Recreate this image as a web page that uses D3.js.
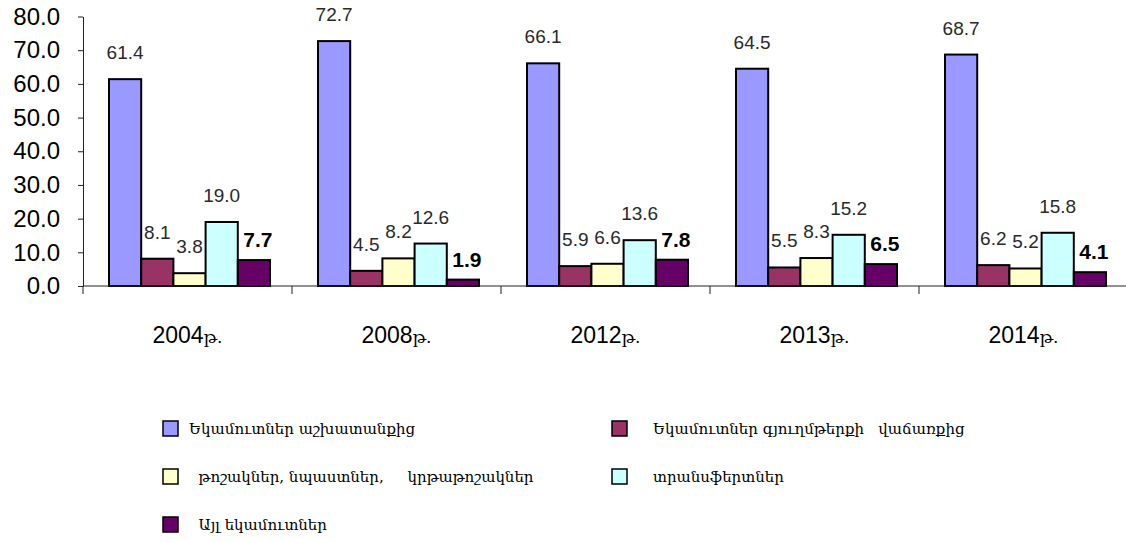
<!DOCTYPE html>
<html>
<head>
<meta charset="utf-8">
<script src="https://cdn.jsdelivr.net/npm/d3@7"></script>
<style>
  html, body { margin: 0; padding: 0; background: #fff; }
  svg { display: block; }
  .leg text { white-space: pre; }
</style>
</head>
<body>
<svg id="chart" width="1126" height="542"></svg>
<script>
// ---- data ----
const years = ["2004", "2008", "2012", "2013", "2014"];
const yearSuffix = "թ.";
const seriesNames = [
  "Եկամուտներ աշխատանքից",
  "Եկամուտներ գյուղմթերքի   վաճառքից",
  "  թոշակներ, նպաստներ,     կրթաթոշակներ",
  "տրանսֆերտներ",
  "  Այլ եկամուտներ"
];
const wages      = [61.4, 72.7, 66.1, 64.5, 68.7];
const agriSales  = [8.1, 4.5, 5.9, 5.5, 6.2];
const pensions   = [3.8, 8.2, 6.6, 8.3, 5.2];
const transfers  = [19.0, 12.6, 13.6, 15.2, 15.8];
const otherIncome= [7.7, 1.9, 7.8, 6.5, 4.1];
const yTicks = [0, 10, 20, 30, 40, 50, 60, 70, 80];
const colors = ["#9999FF", "#993366", "#FFFFCC", "#CCFFFF", "#660066"];

const seriesValues = [wages, agriSales, pensions, transfers, otherIncome];
const seriesIdx = d3.range(seriesNames.length);

// ---- layout ----
const svg = d3.select("#chart");
svg.append("rect").attr("width", 1126).attr("height", 542).attr("fill", "#fff");

const x0 = d3.scaleBand().domain(years).range([83, 1128]).paddingInner(0).paddingOuter(0);
const x1 = d3.scaleBand().domain(seriesIdx).range([26, 187]);
const y = d3.scaleLinear().domain([0, 80]).range([286, 16.5]);

// y axis
const yAxis = svg.append("g")
  .attr("transform", "translate(83,0)")
  .call(d3.axisLeft(y).tickValues(yTicks).tickFormat(d3.format(".1f"))
        .tickSizeInner(5).tickSizeOuter(0).tickPadding(18));
yAxis.select(".domain").attr("stroke", "#222");
yAxis.selectAll(".tick line").attr("stroke", "#222");
yAxis.selectAll("text")
  .attr("font-family", "'Liberation Sans', Arial, sans-serif")
  .attr("font-size", 24).attr("fill", "#000");

// bars
const groups = svg.append("g").selectAll("g")
  .data(years).join("g")
  .attr("transform", d => `translate(${x0(d)},0)`);

groups.selectAll("rect")
  .data((d, i) => seriesIdx.map(s => ({ s, v: seriesValues[s][i] })))
  .join("rect")
  .attr("x", d => x1(d.s))
  .attr("width", x1.bandwidth())
  .attr("y", d => y(d.v))
  .attr("height", d => y(0) - y(d.v))
  .attr("fill", d => colors[d.s])
  .attr("stroke", "#000")
  .attr("stroke-width", 2);

groups.selectAll("text")
  .data((d, i) => seriesIdx.map(s => ({ s, v: seriesValues[s][i] })))
  .join("text")
  .attr("x", d => x1(d.s) + x1.bandwidth() / 2 + (d.s === 4 ? 4 : 0))
  .attr("y", d => y(d.v) - (d.s === 4 ? 13 : 20))
  .attr("text-anchor", "middle")
  .attr("font-family", "'Liberation Sans', Arial, sans-serif")
  .attr("font-size", d => d.s === 4 ? 21 : 19)
  .attr("font-weight", d => d.s === 4 ? "bold" : "normal")
  .attr("fill", d => d.s === 4 ? "#000" : "#2a2a2a")
  .text(d => d3.format(".1f")(d.v));

// x axis
const xAxis = svg.append("g");
xAxis.append("line")
  .attr("x1", x0.range()[0]).attr("x2", x0.range()[1])
  .attr("y1", y(0)).attr("y2", y(0))
  .attr("stroke", "#222");
const bounds = years.map(d => x0(d)).concat([x0.range()[1]]);
xAxis.selectAll("line.tk").data(bounds).join("line").attr("class", "tk")
  .attr("x1", d => d).attr("x2", d => d)
  .attr("y1", y(0)).attr("y2", y(0) + 8)
  .attr("stroke", "#222");
const xl = xAxis.selectAll("text").data(years).join("text")
  .attr("x", d => x0(d) + x0.bandwidth() / 2)
  .attr("y", 343)
  .attr("text-anchor", "middle")
  .attr("fill", "#000");
xl.append("tspan")
  .attr("font-family", "'Liberation Sans', Arial, sans-serif")
  .attr("font-size", 23)
  .text(d => d);
xl.append("tspan")
  .attr("font-family", "'DejaVu Serif', serif")
  .attr("font-size", 17)
  .text(yearSuffix);

// legend
const legPos = [
  { x: 163, y: 421 }, { x: 612, y: 421 },
  { x: 163, y: 469 }, { x: 612, y: 469 },
  { x: 163, y: 517 }
];
const leg = svg.append("g").attr("class", "leg").selectAll("g")
  .data(seriesIdx).join("g")
  .attr("transform", s => `translate(${legPos[s].x},${legPos[s].y})`);
leg.append("rect")
  .attr("width", 15).attr("height", 15)
  .attr("fill", s => colors[s])
  .attr("stroke", "#000").attr("stroke-width", 1.5);
leg.append("text")
  .attr("x", s => s % 2 === 0 ? 26 : 41)
  .attr("y", 13)
  .attr("font-family", "'DejaVu Serif', serif")
  .attr("font-size", 15)
  .attr("fill", "#000")
  .text(s => seriesNames[s]);
</script>
</body>
</html>
